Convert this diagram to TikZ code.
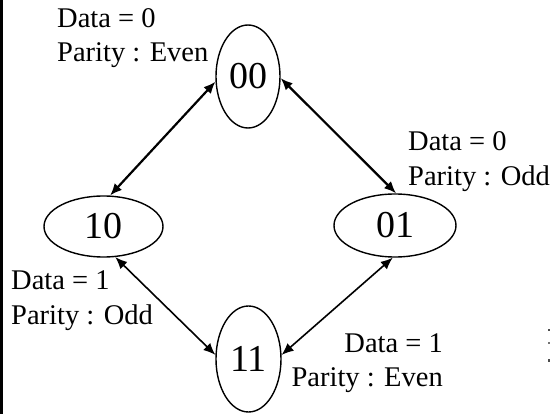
\documentclass[tikz,border=0pt]{standalone}
\usepackage{fontspec}
\setmainfont{Liberation Serif}
\usetikzlibrary{shapes.geometric,arrows.meta}

\begin{document}
\begin{tikzpicture}[x=1pt,y=-1pt,
  state/.style={draw,ellipse,line width=1.4pt,inner sep=0pt,
    font=\fontsize{38}{40}\selectfont},
  note/.style={font=\fontsize{28.5}{34}\selectfont,inner sep=0pt},
  tipshape/.style={Latex[length=12pt,width=10pt]},
  link/.style={{Latex[length=12pt,width=10pt]}-{Latex[length=12pt,width=10pt]},line width=2.2pt},
  thinlink/.style={link,line width=1.6pt}]
\useasboundingbox (0,0) rectangle (550,414);

% left edge bar
\fill (0,0) rectangle (3,414);
% clipped marks at the right edge
\fill[black!70] (547.5,329) rectangle (550,331.5);
\fill[black!55] (547.5,342) rectangle (550,344.5);
\fill[black!70] (547.5,359.5) rectangle (550,362);

% states
\node[state,minimum width=64pt,minimum height=103pt] (s00) at (248,76.5) {00};
\node[state,minimum width=119pt,minimum height=61pt] (s10) at (103.5,226.5) {10};
\node[state,minimum width=122pt,minimum height=63pt] (s01) at (395,225.5) {01};
\node[state,minimum width=65pt,minimum height=106pt] (s11) at (248.5,359) {11};

% transitions
\draw[link] (s00.189) -- (s10.78);
\draw[link] (s00.-3) -- (s01.88);
\draw[thinlink] (s10.-69) -- (s11.173);
\draw[thinlink] (s01.266) -- (s11.7);

% labels
\node[note,anchor=base west] (d00) at (57,28) {Data = 0};
\node[note,anchor=base west] (p00) at (57,62) {Parity : Even};
\node[note,anchor=base west] (d01) at (408,151) {Data = 0};
\node[note,anchor=base west] (p01) at (408,186) {Parity : Odd};
\node[note,anchor=base west] (d10) at (11,290) {Data = 1};
\node[note,anchor=base west] (p10) at (11,325) {Parity : Odd};
\node[note,anchor=base east] (d11) at (443,353) {Data = 1};
\node[note,anchor=base east] (p11) at (443,387) {Parity : Even};
\end{tikzpicture}
\end{document}
